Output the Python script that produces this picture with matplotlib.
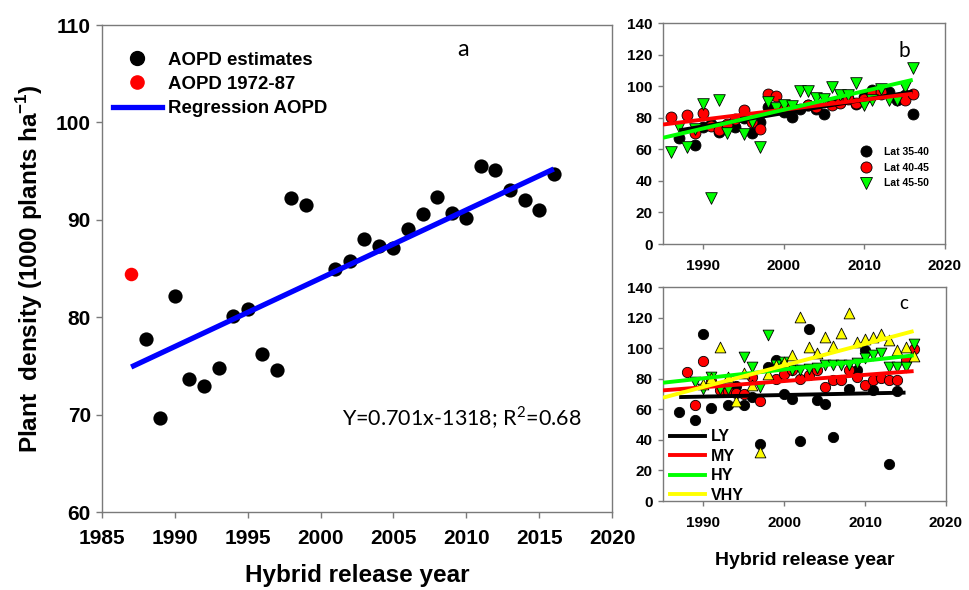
import numpy as np
import matplotlib
matplotlib.use("Agg")
import matplotlib.pyplot as plt
from matplotlib.lines import Line2D

plt.rcParams['font.family'] = ['Liberation Sans', 'DejaVu Sans']
plt.rcParams['mathtext.fontset'] = 'custom'
plt.rcParams['mathtext.bf'] = 'Liberation Sans:bold'
plt.rcParams['mathtext.rm'] = 'Lato'

# ---------------- Panel a: average optimum plant density ----------------
years_a = [1988, 1989, 1990, 1991, 1992, 1993, 1994, 1995, 1996, 1997, 1998, 1999,
           2001, 2002, 2003, 2004, 2005, 2006, 2007, 2008, 2009, 2010, 2011, 2012,
           2013, 2014, 2015, 2016]
density_a = [77.8, 69.7, 82.2, 73.7, 72.9, 74.8, 80.1, 80.8, 76.2, 74.6, 92.2, 91.5,
             84.9, 85.8, 88.0, 87.3, 87.1, 89.1, 90.6, 92.3, 90.7, 90.2, 95.5, 95.1,
             93.1, 92.0, 91.0, 94.7]
years_early = [1987]
density_early = [84.4]
reg_slope = 0.701
reg_intercept = -1318
reg_span = [1987, 2016]

# ---------------- Panel b: by latitude band ----------------
years_lat35 = [1987, 1989, 1990, 1991, 1992, 1993, 1994, 1995, 1996, 1997, 1998, 1999,
               2000, 2001, 2002, 2003, 2004, 2005, 2006, 2007, 2008, 2009, 2010, 2011,
               2012, 2013, 2014, 2015, 2016]
dens_lat35 = [67.3, 62.6, 74.2, 75.9, 71.0, 75.0, 74.2, 80.0, 70.4, 77.4, 86.8, 85.8,
              83.7, 80.5, 85.8, 88.3, 85.3, 82.2, 89.3, 90.0, 92.7, 89.0, 93.1, 97.7,
              95.2, 96.3, 91.4, 94.6, 82.6]
years_lat40 = [1986, 1988, 1989, 1990, 1991, 1992, 1993, 1994, 1995, 1996, 1997, 1998,
               1999, 2000, 2001, 2003, 2004, 2006, 2007, 2008, 2009, 2010, 2011, 2012,
               2015, 2016]
dens_lat40 = [80.5, 81.6, 70.4, 83.0, 74.8, 72.5, 76.3, 79.0, 84.7, 77.0, 72.7, 94.8,
              93.8, 86.8, 86.8, 88.3, 86.5, 88.0, 89.5, 91.7, 89.3, 92.0, 95.0, 96.3,
              91.0, 95.2]
years_lat45 = [1986, 1987, 1988, 1989, 1990, 1991, 1992, 1993, 1995, 1996, 1997, 1998,
               1999, 2000, 2001, 2002, 2003, 2004, 2005, 2006, 2007, 2008, 2009, 2010,
               2011, 2012, 2013, 2014, 2015, 2016]
dens_lat45 = [58.4, 74.2, 61.6, 73.0, 88.5, 29.0, 91.4, 70.4, 70.0, 77.4, 61.2, 90.0,
              86.2, 88.3, 87.2, 96.7, 96.7, 92.7, 91.7, 99.4, 94.6, 94.2, 102.0, 88.3,
              91.0, 98.4, 91.4, 91.0, 99.4, 111.6]
# trend lines: value at 1985, slope per year, first and last year
trend_b = {
    'Lat 35-40': (70.3, 0.845, 1987, 2016),
    'Lat 40-45': (75.7, 0.629, 1985, 2016),
    'Lat 45-50': (67.3, 1.184, 1985, 2016),
}

# ---------------- Panel c: by yield environment ----------------
years_ly = [1987, 1989, 1990, 1991, 1993, 1994, 1995, 1996, 1997, 1998, 1999, 2000,
            2001, 2002, 2003, 2004, 2005, 2006, 2008, 2009, 2010, 2011, 2013, 2014]
dens_ly = [58.2, 52.8, 109.5, 60.8, 62.6, 75.0, 62.6, 68.0, 37.0, 87.7, 92.5, 70.2,
           66.5, 39.3, 112.3, 66.3, 63.7, 41.9, 73.0, 86.0, 98.6, 72.8, 24.0, 71.7]
years_my = [1988, 1989, 1990, 1991, 1992, 1993, 1994, 1995, 1996, 1997, 1999, 2000,
            2001, 2002, 2003, 2004, 2005, 2006, 2007, 2008, 2009, 2010, 2011, 2012,
            2013, 2014, 2015, 2016]
dens_my = [84.4, 63.0, 91.4, 78.3, 72.8, 72.0, 71.0, 70.2, 81.0, 65.2, 80.0, 83.3,
           86.0, 80.0, 82.2, 85.5, 74.6, 79.0, 79.0, 85.5, 81.0, 75.7, 79.0, 80.7,
           79.4, 79.4, 92.5, 99.7]
years_hy = [1989, 1990, 1991, 1992, 1993, 1995, 1996, 1997, 1998, 1999, 2000, 2001,
            2002, 2003, 2004, 2005, 2006, 2007, 2008, 2009, 2010, 2011, 2012, 2013,
            2014, 2015, 2016]
dens_hy = [77.8, 73.5, 81.0, 73.5, 73.5, 94.2, 87.7, 74.6, 108.4, 89.0, 91.0, 86.0,
           85.5, 86.6, 87.2, 88.7, 89.2, 89.2, 89.2, 90.3, 93.8, 95.3, 96.8, 88.0,
           87.7, 88.0, 102.5]
years_vhy = [1990, 1991, 1992, 1993, 1994, 1995, 1996, 1997, 1998, 1999, 2000, 2001,
             2002, 2003, 2004, 2005, 2006, 2007, 2008, 2009, 2010, 2011, 2012, 2013,
             2014, 2015, 2016]
dens_vhy = [76.3, 80.7, 100.7, 81.0, 65.2, 83.7, 75.7, 32.0, 82.9, 88.7, 91.0, 95.3,
            120.4, 100.7, 96.8, 107.3, 101.2, 110.0, 123.0, 104.0, 106.2, 107.3, 109.5,
            105.5, 99.0, 100.7, 94.6]
trend_c = {
    'LY': (67.8, 0.104, 1987, 2015),
    'MY': (72.4, 0.406, 1985, 2016),
    'HY': (77.4, 0.577, 1985, 2016),
    'VHY': (67.6, 1.406, 1985, 2016),
}

SPINE = '#7a7a7a'


def style_axes(ax, tick_size, tick_len, xpad, ypad):
    for sp in ax.spines.values():
        sp.set_color(SPINE)
        sp.set_linewidth(1.0)
    ax.tick_params(direction='out', length=tick_len, width=1.0, color=SPINE,
                   labelsize=tick_size)
    ax.tick_params(axis='x', pad=xpad)
    ax.tick_params(axis='y', pad=ypad)
    ax.tick_params(top=False, right=False)
    for lab in ax.get_xticklabels() + ax.get_yticklabels():
        lab.set_fontweight('bold')


def trend(ax, params, color, lw):
    y1985, slope, x0, x1 = params
    xs = np.array([x0, x1], dtype=float)
    ax.plot(xs, y1985 + slope * (xs - 1985), color=color, lw=lw,
            solid_capstyle='butt', zorder=5)


fig = plt.figure(figsize=(9.69, 5.90), dpi=100)

# ---- a ----
ax_a = fig.add_axes([0.1053, 0.1322, 0.5263, 0.8254])
ax_a.scatter(years_a, density_a, s=105, color='black', linewidths=0, zorder=3)
ax_a.scatter(years_early, density_early, s=95, color='#ff0000', linewidths=0, zorder=3)
xr = np.array(reg_span, dtype=float)
ax_a.plot(xr, reg_slope * xr + reg_intercept, color='#0000ff', lw=3.8,
          solid_capstyle='butt', zorder=4)
ax_a.set_xlim(1985, 2020)
ax_a.set_ylim(60, 110)
ax_a.set_xticks(np.arange(1985, 2021, 5))
ax_a.set_yticks(np.arange(60, 111, 10))
style_axes(ax_a, 15, 4, 8, 4)
ax_a.set_xlabel('Hybrid release year', fontsize=17.5, fontweight='bold', labelpad=12)
ax_a.set_ylabel(r'Plant  density (1000 plants ha$^{\mathbf{-1}}$)', fontsize=17.5,
                fontweight='bold', labelpad=8)
ax_a.text(0.708, 0.949, 'a', transform=ax_a.transAxes, fontsize=17,
          family='Lato', ha='center', va='center')
ax_a.text(0.706, 0.193, r'Y=0.701x-1318; R$^{\mathrm{2}}$=0.68', transform=ax_a.transAxes,
          fontsize=15.5, family='Lato', ha='center', va='center')
handles_a = [
    Line2D([], [], marker='o', ls='none', color='black', markersize=10),
    Line2D([], [], marker='o', ls='none', color='#ff0000', markersize=9.5),
    Line2D([], [], color='#0000ff', lw=3.8),
]
ax_a.legend(handles_a, ['AOPD estimates', 'AOPD 1972-87', 'Regression AOPD'],
            loc='upper left', bbox_to_anchor=(0.022, 0.945), borderpad=0,
            borderaxespad=0, frameon=False, handlelength=2.6, handletextpad=0.35,
            labelspacing=0.38, prop={'size': 13.4, 'weight': 'bold'})

# ---- b ----
ax_b = fig.add_axes([0.6842, 0.5864, 0.2910, 0.3746])
mk = dict(edgecolors='black', linewidths=0.6, zorder=3)
ax_b.scatter(years_lat35, dens_lat35, s=62, marker='o', color='black', **mk)
ax_b.scatter(years_lat40, dens_lat40, s=62, marker='o', color='#ff0000', **mk)
ax_b.scatter(years_lat45, dens_lat45, s=70, marker='v', color='#00ff00', **mk)
trend(ax_b, trend_b['Lat 35-40'], 'black', 2.8)
trend(ax_b, trend_b['Lat 40-45'], '#ff0000', 2.8)
trend(ax_b, trend_b['Lat 45-50'], '#00ff00', 2.8)
ax_b.set_xlim(1985, 2020)
ax_b.set_ylim(0, 140)
ax_b.set_xticks([1990, 2000, 2010, 2020])
ax_b.set_yticks(np.arange(0, 141, 20))
style_axes(ax_b, 11, 3.5, 7, 4)
ax_b.text(0.855, 0.874, 'b', transform=ax_b.transAxes, fontsize=15,
          family='Lato', ha='center', va='center')
handles_b = [
    Line2D([], [], marker='o', ls='none', color='black', mec='black', mew=0.6, markersize=8),
    Line2D([], [], marker='o', ls='none', color='#ff0000', mec='black', mew=0.6, markersize=8),
    Line2D([], [], marker='v', ls='none', color='#00ff00', mec='black', mew=0.6, markersize=8.5),
]
ax_b.legend(handles_b, ['Lat 35-40', 'Lat 40-45', 'Lat 45-50'], loc='upper left',
            bbox_to_anchor=(0.701, 0.44), borderpad=0, borderaxespad=0,
            frameon=False, handlelength=1.0, handletextpad=1.2, labelspacing=0.55,
            prop={'size': 7.5, 'weight': 'bold'})

# ---- c ----
ax_c = fig.add_axes([0.6842, 0.1508, 0.2920, 0.3627])
mk_c = dict(edgecolors='black', linewidths=0.6, zorder=3)
ax_c.scatter(years_ly, dens_ly, s=55, marker='o', color='black', **mk_c)
ax_c.scatter(years_my, dens_my, s=55, marker='o', color='#ff0000', **mk_c)
ax_c.scatter(years_hy, dens_hy, s=60, marker='v', color='#00ff00', **mk_c)
ax_c.scatter(years_vhy, dens_vhy, s=60, marker='^', color='#ffff00', **mk_c)
trend(ax_c, trend_c['LY'], 'black', 2.8)
trend(ax_c, trend_c['MY'], '#ff0000', 2.8)
trend(ax_c, trend_c['HY'], '#00ff00', 2.8)
trend(ax_c, trend_c['VHY'], '#ffff00', 2.8)
ax_c.set_xlim(1985, 2020)
ax_c.set_ylim(0, 140)
ax_c.set_xticks([1990, 2000, 2010, 2020])
ax_c.set_yticks(np.arange(0, 141, 20))
style_axes(ax_c, 11, 3.5, 7, 4)
ax_c.set_xlabel('Hybrid release year', fontsize=14, fontweight='bold', labelpad=16)
ax_c.text(0.849, 0.925, 'c', transform=ax_c.transAxes, fontsize=13.5,
          family='Lato', ha='center', va='center')
handles_c = [Line2D([], [], color=c, lw=2.8) for c in ['black', '#ff0000', '#00ff00', '#ffff00']]
ax_c.legend(handles_c, ['LY', 'MY', 'HY', 'VHY'], loc='upper left',
            bbox_to_anchor=(0.025, 0.335), borderpad=0, borderaxespad=0,
            frameon=False, handlelength=2.2, handletextpad=0.35, labelspacing=0.28,
            prop={'size': 11.5, 'weight': 'bold'})

fig.savefig('out.png', dpi=100)
